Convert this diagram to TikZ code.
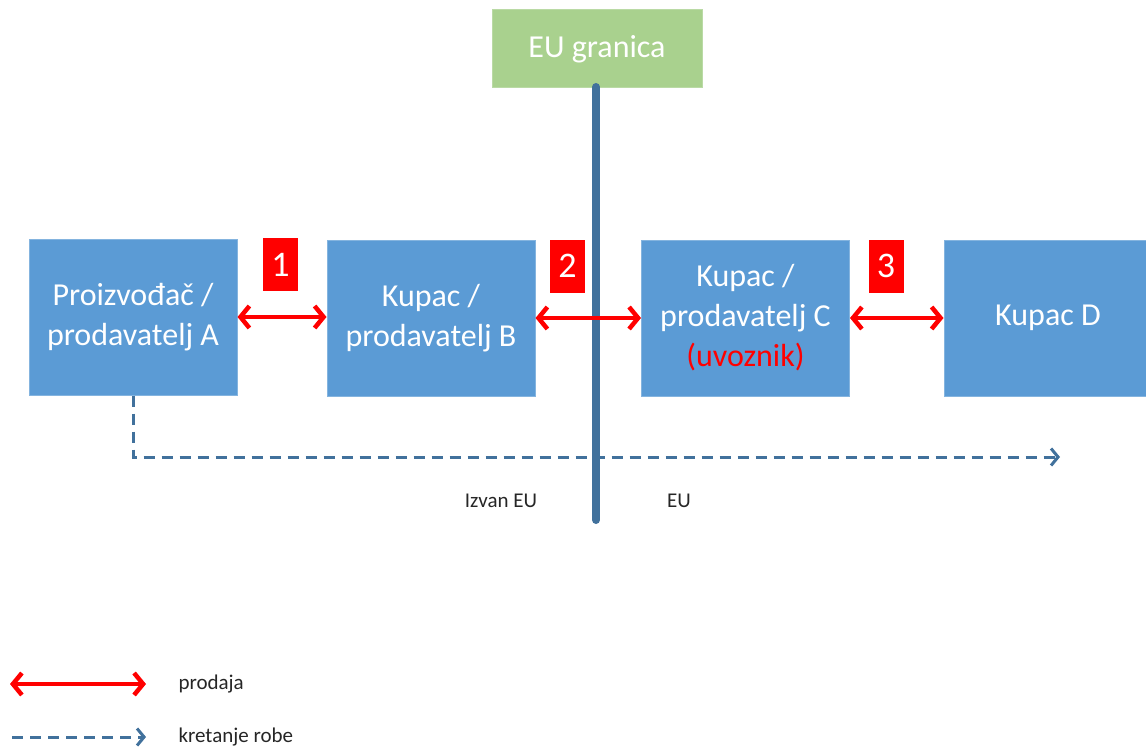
\documentclass[tikz,border=0pt]{standalone}
\usepackage{fontspec}
\setmainfont{Carlito}
\usepackage{xcolor}
\usepackage{tikz}
\usetikzlibrary{arrows.meta,positioning,calc}

\definecolor{boxblue}{HTML}{5B9BD5}
\definecolor{lineblue}{HTML}{41719C}
\definecolor{granicagreen}{HTML}{A9D18E}

\tikzset{
  party/.style={fill=boxblue,draw=boxblue!75!white,line width=1pt,
    minimum width=208pt,minimum height=156pt,inner sep=0pt,
    text=white,align=center,font=\fontsize{32}{40}\selectfont},
  broj/.style={fill=red,minimum width=35pt,minimum height=53pt,inner sep=0pt,
    text=white,font=\fontsize{36}{40}\selectfont},
  prodaja/.style={red,line width=4.5pt,
    {Straight Barb[length=9pt,width=22pt]}-{Straight Barb[length=9pt,width=22pt]}},
  roba/.style={lineblue,line width=3pt,dash pattern=on 11pt off 7pt,
    -{Straight Barb[length=7pt,width=17pt]}},
  oznaka/.style={font=\fontsize{21}{25}\selectfont,text=black!85}
}

\begin{document}
\begin{tikzpicture}[x=1pt,y=-1pt]
  \useasboundingbox (0,0) rectangle (1146,749);

  \node[party] (A) at (133,317) {Proizvođač /\\prodavatelj A};
  \node[party] (B) at (431,318) {Kupac /\\prodavatelj B};
  \node[party] (C) at (745.5,318) {Kupac /\\prodavatelj C\\{\color{red}(uvoznik)}};
  \node[party] (D) at (1048,318) {Kupac D};

  \node[fill=granicagreen,draw=granicagreen!80!white,line width=1pt,
        minimum width=210pt,minimum height=78pt,text=white,
        font=\fontsize{32}{40}\selectfont] (eu) at (597,49) {EU granica};

  \node[broj] (n1) at (280.5,264.5) {1};
  \node[broj] (n2) at (567.5,266) {2};
  \node[broj] (n3) at (886,266) {3};

  \coordinate (kraj) at (1060,457);
  \draw[roba] (A.south) |- (kraj);

  \coordinate (dno) at (596,520);
  \draw[lineblue,line width=8pt,line cap=round] (596,87) -- (dno);

  \draw[prodaja] (A.east) -- (A.east -| B.west);
  \draw[prodaja] (B.east) -- (C.west);
  \draw[prodaja] (C.east) -- (D.west);

  \node[oznaka] (izvan) at (501,501) {Izvan EU};
  \node[oznaka] (unutar) at (679,501) {EU};

  \coordinate (p1) at (10,684);
  \coordinate (p2) at (146,684);
  \draw[prodaja] (p1) -- (p2);
  \node[oznaka,anchor=west] (lp) at (175,684) {prodaja};

  \coordinate (r1) at (12,737);
  \coordinate (r2) at (146,737);
  \draw[roba] (r1) -- (r2);
  \node[oznaka,anchor=west] (lr) at (175,737) {kretanje robe};
\end{tikzpicture}
\end{document}
